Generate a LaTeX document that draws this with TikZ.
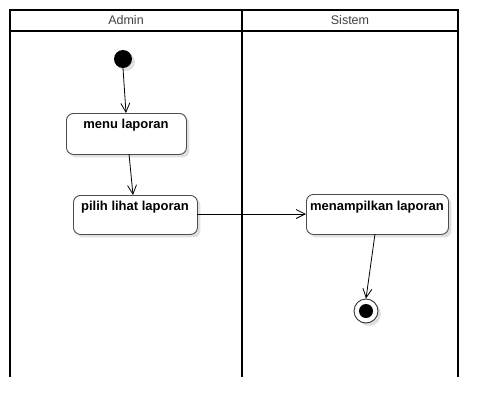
\documentclass[tikz,border=0pt]{standalone}
\usepackage{fontspec}
\setmainfont{Liberation Sans}
\usetikzlibrary{arrows.meta,shadows}
\begin{document}
\begin{tikzpicture}[x=1pt,y=-1pt,
  lane/.style={line width=2pt,black},
  act/.style={draw=black!70,line width=0.9pt,rounded corners=7pt,fill=white,
    drop shadow={shadow xshift=3pt,shadow yshift=-3pt,fill=black!12,opacity=1},
    font=\fontsize{13}{15}\selectfont\bfseries,anchor=north west,align=center,inner sep=0pt},
  flow/.style={-{Straight Barb[length=9pt,width=9pt,line width=0.8pt]},line width=0.8pt,black},
  hdr/.style={font=\fontsize{12.5}{14}\selectfont,text=black!75}
]
\useasboundingbox (0,0) rectangle (498,418);
% swimlanes
\draw[lane] (10,10) rectangle (458,31);
\draw[lane] (10,31) -- (10,377);
\draw[lane] (242,10) -- (242,377);
\draw[lane] (458,31) -- (458,377);
\node[hdr] (hA) at (126,20.5) {Admin};
\node[hdr] (hS) at (350,20.5) {Sistem};
% start
\node[circle,fill=black,minimum size=18pt,inner sep=0pt,
  drop shadow={shadow xshift=3pt,shadow yshift=-3pt,fill=black!12,opacity=1}] (start) at (123,59) {};
% activities
\node[act,minimum width=120pt,minimum height=41pt] (menu) at (66,113) {};
\node[font=\fontsize{13}{15}\selectfont\bfseries] (menuT) at (126,125.5) {menu laporan};
\node[act,minimum width=124pt,minimum height=39pt] (pilih) at (73,195) {};
\node[font=\fontsize{13}{15}\selectfont\bfseries] (pilihT) at (135,207.5) {pilih lihat laporan};
\node[act,minimum width=142pt,minimum height=40pt] (tampil) at (306,194) {};
\node[font=\fontsize{13}{15}\selectfont\bfseries] (tampilT) at (377,207) {menampilkan laporan};
% end
\node[circle,draw=black!80,line width=0.9pt,fill=white,minimum size=24pt,inner sep=0pt,
  drop shadow={shadow xshift=3pt,shadow yshift=-3pt,fill=black!12,opacity=1}] (end) at (366,311) {};
\node[circle,fill=black,minimum size=14pt,inner sep=0pt] (endin) at (366,311) {};
% flows
\coordinate (a1) at (126,113);
\draw[flow] (start.south) -- (a1);
\coordinate (b0) at (129,154);
\coordinate (b1) at (133,195);
\draw[flow] (b0) -- (b1);
\coordinate (c0) at (197,214);
\coordinate (c1) at (306,214);
\draw[flow] (c0) -- (c1);
\coordinate (d0) at (375,234);
\draw[flow] (d0) -- (end.north);
\end{tikzpicture}
\end{document}
